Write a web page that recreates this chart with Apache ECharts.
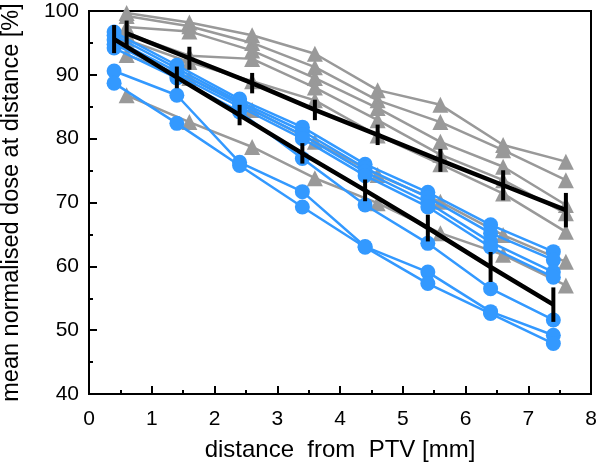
<!DOCTYPE html>
<html>
<head>
<meta charset="utf-8">
<script src="https://cdn.jsdelivr.net/npm/echarts@6/dist/echarts.min.js"></script>
<style>
  html, body { margin: 0; padding: 0; background: #fff; }
  #chart { width: 600px; height: 465px; }
</style>
</head>
<body>
<div id="chart"></div>
<script>
// distances (mm)
const distBlue = [0.4, 1.4, 2.4, 3.4, 4.4, 5.4, 6.4, 7.4]
const distGrey = [0.6, 1.6, 2.6, 3.6, 4.6, 5.6, 6.6, 7.6]

// individual curves, blue circles
const blue1 = [96.7, 91.5, 86.2, 81.8, 76.0, 71.6, 66.5, 62.3]
const blue2 = [96.2, 91.0, 85.8, 81.2, 75.4, 70.8, 65.2, 61.0]
const blue3 = [95.5, 90.5, 85.4, 80.6, 74.8, 70.0, 63.8, 59.1]
const blue4 = [94.8, 90.0, 85.0, 80.0, 74.2, 69.3, 63.0, 58.3]
const blue5 = [94.2, 89.5, 84.2, 76.9, 69.6, 63.6, 56.5, 51.6]
const blue6 = [90.6, 86.8, 76.3, 71.7, 63.1, 59.1, 52.9, 49.2]
const blue7 = [88.7, 82.4, 75.8, 69.3, 63.0, 57.3, 52.6, 47.9]

// individual curves, grey triangles
const grey1 = [99.7, 98.2, 96.2, 93.3, 87.6, 85.3, 79.0, 76.4]
const grey2 = [99.2, 97.6, 95.0, 91.2, 86.0, 82.6, 78.2, 73.5]
const grey3 = [97.5, 96.8, 93.8, 89.5, 84.8, 79.5, 75.6, 69.6]
const grey4 = [96.5, 93.0, 92.5, 88.0, 82.9, 77.5, 73.5, 68.3]
const grey5 = [95.5, 92.0, 89.0, 86.0, 80.5, 76.0, 71.4, 65.4]
const grey6 = [93.1, 89.5, 84.5, 79.5, 74.3, 70.1, 64.9, 60.7]
const grey7 = [86.8, 82.6, 78.7, 73.8, 69.9, 65.2, 61.8, 57.0]

// means with error
const meanBlue = [95.6, 89.6, 83.7, 77.7, 71.9, 66.0, 59.9, 54.0]
const errBlue = [2.2, 1.7, 1.6, 1.6, 1.7, 2.1, 2.35, 2.7]
const meanGrey = [96.5, 92.6, 88.7, 84.5, 80.6, 76.6, 72.7, 68.8]
const errGrey = [2.0, 1.8, 1.6, 1.6, 1.6, 1.8, 2.35, 2.7]

const blueList = [blue1, blue2, blue3, blue4, blue5, blue6, blue7]
const greyList = [grey1, grey2, grey3, grey4, grey5, grey6, grey7]

const BLUE = '#3399ff'
const GREY = '#999999'
const FONT = 'Liberation Sans'

function pairs(xs, ys) {
  return xs.map((x, i) => [x, ys[i]])
}

function errorSeries(xs, ys, es) {
  return {
    type: 'custom',
    z: 12,
    silent: true,
    data: xs.map((x, i) => [x, ys[i], es[i]]),
    renderItem: (params, api) => {
      const lo = api.coord([api.value(0), api.value(1) - api.value(2)])
      const hi = api.coord([api.value(0), api.value(1) + api.value(2)])
      return {
        type: 'line',
        shape: {x1: lo[0], y1: lo[1], x2: hi[0], y2: hi[1]},
        style: {stroke: '#000', lineWidth: 4}
      }
    }
  }
}

const series = []
greyList.forEach(v => {
  series.push({
    type: 'line',
    data: pairs(distGrey, v),
    symbol: 'triangle',
    symbolSize: 16,
    lineStyle: {color: GREY, width: 2.5},
    itemStyle: {color: GREY},
    z: 3
  })
})
blueList.forEach(v => {
  series.push({
    type: 'line',
    data: pairs(distBlue, v),
    symbol: 'circle',
    symbolSize: 15,
    lineStyle: {color: BLUE, width: 2.5},
    itemStyle: {color: BLUE},
    z: 4
  })
})
// mean curves
series.push({
  type: 'line',
  data: pairs(distBlue, meanBlue),
  symbol: 'none',
  lineStyle: {color: '#000', width: 4.5},
  z: 10
})
series.push({
  type: 'line',
  data: pairs(distGrey, meanGrey),
  symbol: 'none',
  lineStyle: {color: '#000', width: 4.5},
  z: 10
})
series.push(errorSeries(distBlue, meanBlue, errBlue))
series.push(errorSeries(distGrey, meanGrey, errGrey))

const chart = echarts.init(document.getElementById('chart'))
chart.setOption({
  animation: false,
  grid: {
    left: 89, right: 9, top: 11, bottom: 71,
    outerBoundsMode: 'none',
    containLabel: false,
    show: true, borderColor: '#000', borderWidth: 2, backgroundColor: 'transparent'
  },
  xAxis: {
    type: 'value',
    min: 0, max: 8, interval: 1,
    name: 'distance  from  PTV [mm]',
    nameLocation: 'middle',
    nameGap: 44,
    nameTextStyle: {fontFamily: FONT, fontSize: 24, color: '#000'},
    axisLine: {show: true, lineStyle: {color: '#000', width: 2}},
    axisTick: {show: true, inside: true, length: 8, lineStyle: {color: '#000', width: 2}},
    minorTick: {show: true, splitNumber: 2, length: 4, lineStyle: {color: '#000', width: 2}},
    splitLine: {show: false},
    axisLabel: {fontFamily: FONT, fontSize: 21, color: '#000', margin: 15}
  },
  yAxis: {
    type: 'value',
    min: 40, max: 100, interval: 10,
    name: 'mean normalised dose at distance [%]',
    nameLocation: 'middle',
    nameGap: 65,
    nameTextStyle: {fontFamily: FONT, fontSize: 23.5, color: '#000'},
    axisLine: {show: true, lineStyle: {color: '#000', width: 2}},
    axisTick: {show: true, inside: true, length: 8, lineStyle: {color: '#000', width: 2}},
    minorTick: {show: true, splitNumber: 2, length: 4, lineStyle: {color: '#000', width: 2}},
    splitLine: {show: false},
    axisLabel: {fontFamily: FONT, fontSize: 21, color: '#000', margin: 10}
  },
  series: series
})
</script>
</body>
</html>
